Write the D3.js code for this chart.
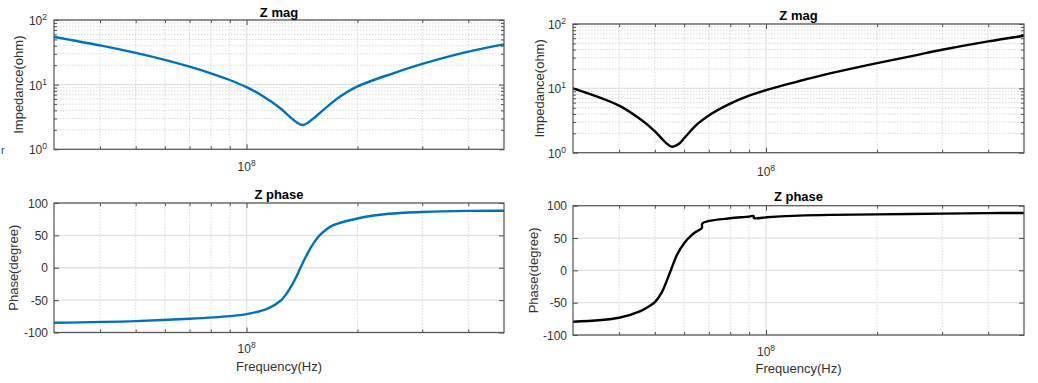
<!DOCTYPE html>
<html><head><meta charset="utf-8">
<script src="https://cdn.jsdelivr.net/npm/d3@7"></script>
<style>html,body{margin:0;padding:0;background:#fff;}svg{display:block;font-family:"Liberation Sans",Arial,sans-serif;}</style>
</head><body><svg id="c" width="1038" height="383"></svg>
<script>
// ---- data ----
const freqDomain = [3e7, 5e8];
const freqTicks = [1e8];
const freqMinor = [4e7,5e7,6e7,7e7,8e7,9e7,2e8,3e8,4e8];
const magTicks = [1, 10, 100];
const magMinor = [2,3,4,5,6,7,8,9,20,30,40,50,60,70,80,90];
const phaseTicks = [-100, -50, 0, 50, 100];

// left: magnitude
const leftMagFreq = [3e7,4e7,5e7,6e7,7e7,8e7,9e7,1e8,1.1e8,1.23e8,1.31e8,1.37e8,1.42e8,1.47e8,1.545e8,1.68e8,1.82e8,2e8,2.5e8,3e8,4e8,5e8];
const leftMag     = [54.5,40.4,31.0,24.2,19.0,15.0,11.8,9.15,6.8,4.4,3.2,2.6,2.37,2.6,3.25,4.9,6.9,9.4,15.0,21.0,32.5,42];
// left: phase
const leftPhFreq = [3e7,5e7,7e7,9e7,1e8,1.141e8,1.237e8,1.284e8,1.333e8,1.367e8,1.401e8,1.437e8,1.473e8,1.529e8,1.586e8,1.709e8,2e8,2.436e8,3e8,4e8,5e8];
const leftPhase  = [-85,-82.4,-78.8,-74.7,-71.6,-63,-51,-40,-25,-13,0,13,25,40,51,65,76,83.3,86.1,87.8,88];
// right: magnitude
const rightMagFreq = [3e7,4e7,4.57e7,5e7,5.34e7,5.56e7,5.8e7,6e7,6.5e7,7e7,8e7,9e7,1e8,1.226e8,1.5e8,2e8,2.5e8,3e8,4e8,5e8];
const rightMag     = [10,5.4,3.3,2.15,1.45,1.24,1.36,1.68,2.75,3.8,5.8,7.7,9.4,12.9,17.2,24.7,32.0,39.8,53.7,65.6];
// right: phase (two small discontinuities)
const rightPhFreq = [3e7,4e7,4.57e7,4.76e7,5e7,5.22e7,5.51e7,5.74e7,6e7,6.3e7,6.5e7,6.7e7,6.72e7,7e7,8e7,9e7,9.25e7,9.28e7,1e8,1.226e8,1.5e8,2e8,3e8,4e8,5e8];
const rightPhase  = [-79.5,-73.3,-63,-57.5,-49,-34,-1.5,24.1,42,54.9,60.5,65.5,72.6,76.4,80.5,83.1,84,80.8,82,84.6,85.8,86.6,87.8,88.5,88.8];

// ---- drawing ----
const svg = d3.select("#c");
svg.append("rect").attr("width",1038).attr("height",383).attr("fill","#fff");
const AX = "#262626", TXT = "#333";

function sup(g, x, y, base, exp, anchor) {
  const t = g.append("text").attr("x", x).attr("y", y).attr("fill", TXT)
    .attr("font-size", 12).attr("text-anchor", anchor);
  t.append("tspan").text(base);
  t.append("tspan").attr("font-size", 8.5).attr("dy", -5).text(exp);
  return t;
}

function panel(cfg) {
  const {x0,x1,y0,y1,title,titleY,isMag,fx,fy,color,xLabel,ylab,ylabX,xtickY,xlabY} = cfg;
  const g = svg.append("g");
  const x = d3.scaleLog().domain(freqDomain).range([x0,x1]);
  const y = isMag ? d3.scaleLog().domain([1,100]).range([y1,y0])
                  : d3.scaleLinear().domain([-100,100]).range([y1,y0]);
  // minor grid
  const mg = g.append("g").attr("stroke","#cfcfcf").attr("stroke-width",0.8).attr("stroke-dasharray","1.5,1.5");
  freqMinor.forEach(f => mg.append("line").attr("x1",x(f)).attr("x2",x(f)).attr("y1",y0).attr("y2",y1));
  if (isMag) magMinor.forEach(v => mg.append("line").attr("x1",x0).attr("x2",x1).attr("y1",y(v)).attr("y2",y(v)));
  // major grid
  const Mg = g.append("g").attr("stroke","#e2e2e2").attr("stroke-width",1.3);
  freqTicks.forEach(f => Mg.append("line").attr("x1",x(f)).attr("x2",x(f)).attr("y1",y0).attr("y2",y1));
  (isMag ? magTicks : phaseTicks).forEach(v => Mg.append("line").attr("x1",x0).attr("x2",x1).attr("y1",y(v)).attr("y2",y(v)));
  // curve
  const line = d3.line().x((d,i)=>x(fx[i])).y((d,i)=>y(fy[i])).curve(d3.curveCatmullRom.alpha(0.5));
  g.append("path").datum(fy).attr("d", line).attr("fill","none")
    .attr("stroke", color).attr("stroke-width", 2.4).attr("stroke-linejoin","round");
  // axes (ticks inside, box)
  const yt = isMag ? magTicks : phaseTicks;
  const axL = d3.axisLeft(y).tickValues(yt).tickSize(-5).tickFormat("");
  const axR = d3.axisRight(y).tickValues(yt).tickSize(-5).tickFormat("");
  const axB = d3.axisBottom(x).tickValues(freqTicks).tickSize(-5).tickFormat("");
  const axT = d3.axisTop(x).tickValues(freqTicks).tickSize(-5).tickFormat("");
  const mB = d3.axisBottom(x).tickValues(freqMinor).tickSize(-3).tickFormat("");
  const mT = d3.axisTop(x).tickValues(freqMinor).tickSize(-3).tickFormat("");
  const axes = [[axL,`translate(${x0},0)`],[axR,`translate(${x1},0)`],[axB,`translate(0,${y1})`],[axT,`translate(0,${y0})`],[mB,`translate(0,${y1})`],[mT,`translate(0,${y0})`]];
  if (isMag) {
    axes.push([d3.axisLeft(y).tickValues(magMinor).tickSize(-3).tickFormat(""),`translate(${x0},0)`]);
    axes.push([d3.axisRight(y).tickValues(magMinor).tickSize(-3).tickFormat(""),`translate(${x1},0)`]);
  }
  axes.forEach(([a,t]) => {
    const ag = g.append("g").attr("transform",t).call(a);
    ag.selectAll("path.domain").remove();
    ag.selectAll("line").attr("stroke",AX).attr("stroke-width",0.8);
  });
  g.append("rect").attr("x",x0).attr("y",y0).attr("width",x1-x0).attr("height",y1-y0)
    .attr("fill","none").attr("stroke","#555").attr("stroke-width",1.2);
  // tick labels
  if (isMag) {
    magTicks.forEach((v,i) => sup(g, x0-7, y(v)+5, "10", String(i), "end"));
  } else {
    phaseTicks.forEach(v => g.append("text").attr("x",x0-6).attr("y",y(v)+4.5).attr("text-anchor","end")
      .attr("font-size",12).attr("fill",TXT).text(v));
  }
  freqTicks.forEach(f => sup(g, x(f), xtickY, "10", "8", "middle"));
  // titles and labels
  g.append("text").attr("x",(x0+x1)/2).attr("y",titleY).attr("text-anchor","middle")
    .attr("font-size",13).attr("font-weight","bold").attr("fill","#000").text(title);
  g.append("text").attr("transform",`translate(${ylabX},${(y0+y1)/2}) rotate(-90)`)
    .attr("text-anchor","middle").attr("font-size",13).attr("fill",TXT).text(ylab);
  if (xLabel) g.append("text").attr("x",(x0+x1)/2).attr("y",xlabY).attr("text-anchor","middle")
    .attr("font-size",13).attr("fill",TXT).text(xLabel);
}

panel({x0:54,x1:504,y0:20,y1:149.3,title:"Z mag",titleY:16.5,isMag:true,fx:leftMagFreq,fy:leftMag,color:"#0072BD",ylab:"Impedance(ohm)",ylabX:23,xtickY:171});
panel({x0:54,x1:504,y0:203,y1:332.5,title:"Z phase",titleY:198.5,isMag:false,fx:leftPhFreq,fy:leftPhase,color:"#0072BD",ylab:"Phase(degree)",ylabX:18,xtickY:353,xLabel:"Frequency(Hz)",xlabY:370.5});
panel({x0:573,x1:1024,y0:24,y1:152.7,title:"Z mag",titleY:19.5,isMag:true,fx:rightMagFreq,fy:rightMag,color:"#000",ylab:"Impedance(ohm)",ylabX:544,xtickY:176});
panel({x0:573,x1:1024,y0:205.7,y1:335,title:"Z phase",titleY:201,isMag:false,fx:rightPhFreq,fy:rightPhase,color:"#000",ylab:"Phase(degree)",ylabX:538,xtickY:356,xLabel:"Frequency(Hz)",xlabY:372.5});

// stray glyph at the left edge of the reference
svg.append("text").attr("x",1).attr("y",154).attr("font-size",11).attr("fill","#1f3f8f").text("r");
</script></body></html>
